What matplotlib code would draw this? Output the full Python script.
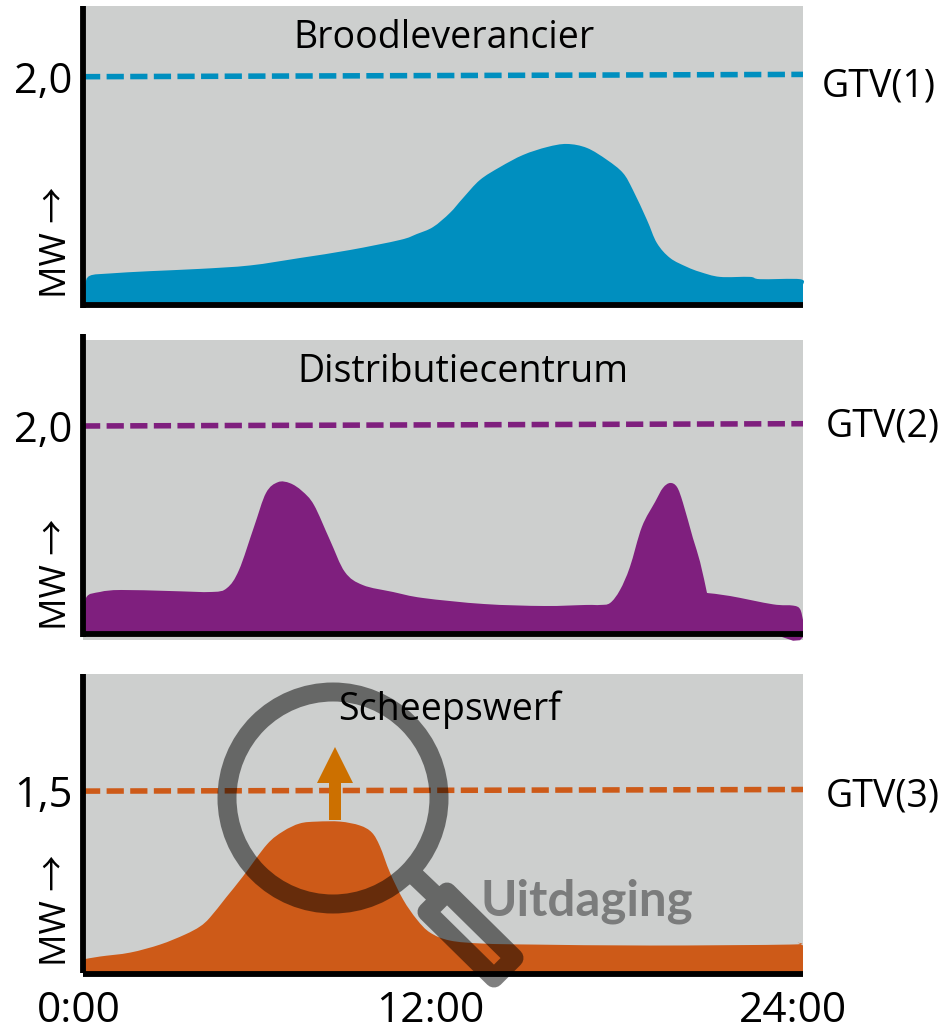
import matplotlib
matplotlib.use('Agg')
import numpy as np
import matplotlib.pyplot as plt
from matplotlib.path import Path
from matplotlib.patches import PathPatch, Polygon
from matplotlib.transforms import ScaledTranslation

W, H = 943, 1034
DPI = 100
plt.rcParams['font.family'] = ['Open Sans', 'Noto Sans CJK SC', 'DejaVu Sans']

# hours / MW
brood_h = [0.07, 0.07, 0.23, 0.9, 2.23, 3.9, 5.57, 7.23, 8.9, 10.57, 11.13, 11.67, 12.23, 12.67, 13.23, 13.9,
           14.67, 15.47, 16.13, 16.8, 17.47, 18.0, 18.33, 18.8, 19.13, 19.57, 20.13, 20.57, 21.23, 22.23, 22.57,
           23.9, 24.0]
brood_mw = [0.05, 0.18, 0.26, 0.28, 0.30, 0.32, 0.35, 0.415, 0.485, 0.573, 0.625, 0.686, 0.809, 0.94, 1.097, 1.21,
            1.316, 1.385, 1.412, 1.377, 1.272, 1.158, 1.01, 0.747, 0.546, 0.415, 0.337, 0.293, 0.25, 0.25, 0.23,
            0.23, 0.18]
brood_low = [0.0] * 33

dist_h = [0.07, 0.1, 0.57, 1.27, 2.9, 4.3, 4.8, 5.2, 5.7, 6.1, 6.5, 6.9, 7.3, 7.7, 8.23, 8.73, 9.33, 10.33,
          11.33, 13.37, 15.37, 16.77, 17.23, 17.57, 17.9, 18.23, 18.63, 19.07, 19.33, 19.57, 19.8, 20.0, 20.33,
          20.57, 20.8, 20.8, 21.57, 23.0, 23.67, 23.9, 24.0]
dist_mw = [0.087, 0.346, 0.404, 0.423, 0.413, 0.404, 0.442, 0.615, 1.03, 1.356, 1.46, 1.45, 1.375, 1.24,
           0.904, 0.596, 0.47, 0.404, 0.346, 0.288, 0.269, 0.279, 0.279, 0.298, 0.423, 0.644, 1.03, 1.27, 1.404,
           1.452, 1.413, 1.26, 0.923, 0.692, 0.394, 0.394, 0.365, 0.285, 0.273, 0.24, 0.135]
dist_low = [0.0] * 38 + [-0.065, -0.06, -0.03]

werf_h = [0.0, 0.57, 1.57, 2.57, 3.4, 3.9, 4.23, 4.77, 5.33, 6.13, 6.67, 7.23, 7.8, 8.57, 9.23, 9.63, 9.9,
          10.23, 10.67, 11.13, 11.57, 12.23, 13.33, 15.0, 18.9, 23.57, 23.8, 24.0]
werf_mw = [0.12, 0.144, 0.176, 0.242, 0.324, 0.39, 0.463, 0.628, 0.8, 1.062, 1.17, 1.235, 1.25, 1.25, 1.218,
           1.16, 1.046, 0.833, 0.611, 0.447, 0.34, 0.275, 0.25, 0.242, 0.234, 0.242, 0.258, 0.234]
werf_low = [0.0] * 28

gtv_h = [0, 24]
gtv1 = [2.0, 2.02]
gtv2 = [2.0, 2.022]
gtv3 = [1.5, 1.513]

titles = ['Broodleverancier', 'Distributiecentrum', 'Scheepswerf']
gtv_labels = ['GTV(1)', 'GTV(2)', 'GTV(3)']
ytick_vals = [2.0, 2.0, 1.5]
ytick_labels = ['2,0', '2,0', '1,5']
hour_ticks = [0, 12, 24]
hour_labels = ['0:00', '12:00', '24:00']

GRAY = '#cdcfce'
BLUE = '#008fbf'
PURPLE = '#7f1f7e'
ORANGE = '#cd5a18'
AXIS_LW = 4.2


def px_axes(fig, left, top, right, bottom, **kw):
    return fig.add_axes([left / W, 1 - bottom / H, (right - left) / W, (bottom - top) / H], **kw)


def area_path(x, y, low):
    # the source is a hand drawn smooth curve, so join the read points with beziers
    p = np.column_stack([x, y])
    prev = np.vstack([p[0], p[:-1]])
    nxt = np.vstack([p[1:], p[-1]])
    verts = [tuple(p[0])]
    codes = [Path.MOVETO]
    for i in range(len(p) - 1):
        verts += [tuple(p[i] + (nxt[i] - prev[i]) / 6), tuple(p[i + 1] - (nxt[i + 1] - prev[i + 1]) / 6), tuple(p[i + 1])]
        codes += [Path.CURVE4] * 3
    for xi, li in zip(x[::-1], low[::-1]):
        verts.append((xi, li))
        codes.append(Path.LINETO)
    verts.append(tuple(p[0]))
    codes.append(Path.CLOSEPOLY)
    return Path(verts, codes)


def panel(fig, top, bottom, ylim, x, y, low, color, gtv, tick, tick_lab, title, title_xy, gtv_xy, mw_y):
    ax = px_axes(fig, 83, top, 803, bottom)
    ax.set_facecolor(GRAY)
    ax.set_xlim(0, 24)
    ax.set_ylim(*ylim)
    for s in ax.spines.values():
        s.set_visible(False)
    ax.add_patch(PathPatch(area_path(x, y, low), facecolor=color, edgecolor='none', zorder=2, clip_on=False))
    ax.plot(gtv_h, gtv, color=color, lw=4.0, dashes=(3.1, 1.15), dash_capstyle='butt', zorder=3, clip_on=False)
    ax.axhline(0, color='black', lw=AXIS_LW, zorder=4, clip_on=False, solid_capstyle='butt')
    ax.set_yticks([tick], [tick_lab], fontsize=30)
    ax.tick_params(axis='y', length=0, pad=7.5)
    ax.set_xticks([])
    fig.text(title_xy[0] / W, 1 - title_xy[1] / H, title, fontsize=27, ha='center', va='center')
    fig.text(gtv_xy[0] / W, 1 - gtv_xy[1] / H, gtv_xy[2], fontsize=27, ha='left', va='center')
    fig.text(57 / W, 1 - mw_y / H, 'MW \u2192', fontsize=26, rotation=90, ha='center', va='bottom')
    return ax


fig = plt.figure(figsize=(W / DPI, H / DPI), dpi=DPI, facecolor='white')

ax1 = panel(fig, 6, 308, (-0.022, 2.618), brood_h, brood_mw, brood_low, BLUE, gtv1, ytick_vals[0], ytick_labels[0],
            titles[0], (444, 38), (822, 87, gtv_labels[0]), 298)
ax2 = panel(fig, 340, 640, (-0.058, 2.827), dist_h, dist_mw, dist_low, PURPLE, gtv2, ytick_vals[1], ytick_labels[1],
            titles[1], (463, 372), (826, 426, gtv_labels[1]), 630)
ax3 = panel(fig, 674, 977, (-0.024, 2.46), werf_h, werf_mw, werf_low, ORANGE, gtv3, ytick_vals[2], ytick_labels[2],
            titles[2], (450, 710), (826, 797, gtv_labels[2]), 966)

ax3.set_xticks(hour_ticks, hour_labels, fontsize=30.5)
ax3.tick_params(axis='x', length=0, pad=9)
for lab, dx in zip(ax3.get_xticklabels(), [-4, -13, -10]):
    lab.set_transform(lab.get_transform() + ScaledTranslation(dx / DPI, 0, fig.dpi_scale_trans))

# y axis lines stick out a little above the grey in the picture
for y0, y1 in [(6, 308), (334, 637), (674, 973)]:
    fig.add_artist(plt.Line2D([82.5 / W, 82.5 / W], [1 - y0 / H, 1 - y1 / H], color='black', lw=AXIS_LW,
                              solid_capstyle='butt', zorder=5))

# overlay in pixel coordinates for the magnifier and arrow
over = fig.add_axes([0, 0, 1, 1], facecolor='none', zorder=10)
over.set_xlim(0, W)
over.set_ylim(H, 0)
over.axis('off')

over.add_patch(Polygon([(329, 820), (341, 820), (341, 783), (353, 783), (335, 747), (317, 783), (329, 783)],
                       closed=True, facecolor='#cc7000', edgecolor='none', zorder=1))

ring = Path.circle((333, 798), 106)
stem = Path([(416, 877), (438, 898)])
handle = Path([(427, 912), (447, 892), (514, 958), (494, 978), (427, 912)],
              [Path.MOVETO, Path.LINETO, Path.LINETO, Path.LINETO, Path.CLOSEPOLY])
glass = Path.make_compound_path(ring, stem, handle)
over.add_patch(PathPatch(glass, facecolor='none', edgecolor=(0, 0, 0, 0.5), lw=19 * 72 / DPI,
                         joinstyle='round', capstyle='butt', zorder=2))

over.text(586.5, 901, 'Uitdaging', family='Lato', weight='bold', fontsize=35.5, color='#7b7c7c',
          ha='center', va='center', zorder=3)

fig.savefig('out.png', dpi=DPI)
